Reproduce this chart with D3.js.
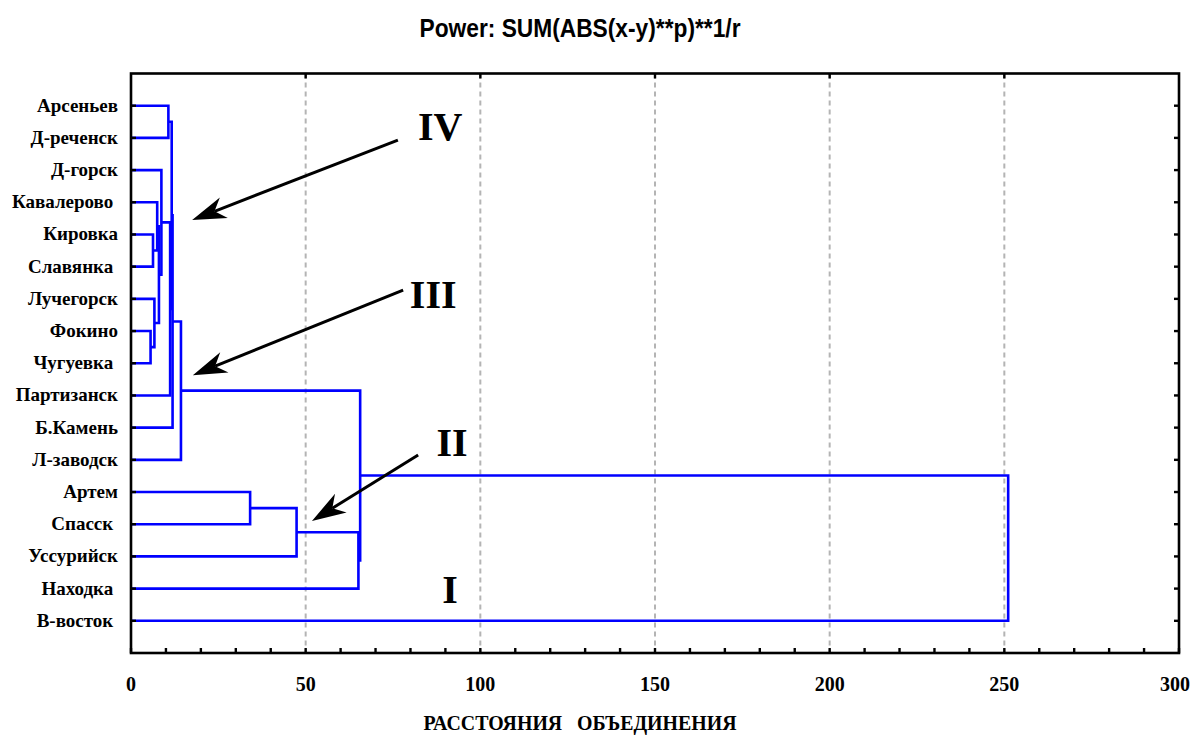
<!DOCTYPE html>
<html>
<head>
<meta charset="utf-8">
<script src="https://cdnjs.cloudflare.com/ajax/libs/d3/7.8.5/d3.min.js"></script>
<style>
	body { margin: 0; background: #fff; }
	svg text { white-space: pre; }
</style>
</head>
<body>
<div id="chart"></div>
<script>
	// leaves, top to bottom
	var towns = ["Арсеньев", "Д-реченск", "Д-горск", "Кавалерово ", "Кировка", "Славянка ", "Лучегорск", "Фокино", "Чугуевка ",
		"Партизанск", "Б.Камень", "Л-заводск", "Артем", "Спасск ", "Уссурийск", "Находка ", "В-восток "];

	// joins: [child A, child B, linkage distance]; node ids >= towns.length refer to earlier joins
	var joinA = [7, 4, 6, 3, 19, 2, 0, 22, 23, 25, 26, 12, 28, 29, 27, 31];
	var joinB = [8, 5, 17, 18, 20, 21, 1, 9, 24, 10, 11, 13, 14, 15, 30, 16];
	var joinDist = [5.6, 6.3, 6.7, 7.5, 8.0, 8.7, 10.7, 11.2, 11.65, 11.9, 14.3, 34.1, 47.4, 65.1, 65.6, 251.1];

	var xTicks = [0, 50, 100, 150, 200, 250, 300];
	var gridTicks = [50, 100, 150, 200, 250];

	var title = "Power: SUM(ABS(x-y)**p)**1/r";
	var xTitle = "РАССТОЯНИЯ   ОБЪЕДИНЕНИЯ";

	// roman labels and arrows, in chart units [distance, row]
	var romanText = ["IV", "III", "II", "I"];
	var romanAt = [[88.5, 2.07], [86.5, 7.28], [91.9, 11.88], [91.3, 16.45]];
	var arrowFrom = [[76.4, 2.07], [77.9, 6.73], [82.2, 11.85]];
	var arrowTo = [[17.5, 4.55], [17.7, 9.37], [51.8, 13.9]];

	var W = 1192, H = 735;
	var pLeft = 131, pRight = 1179, pTop = 73.5, pBottom = 653;

	var svg = d3.select("#chart").append("svg")
		.attr("width", W).attr("height", H);

	var x = d3.scaleLinear().domain([0, 300]).range([pLeft, pRight]);
	var y = d3.scaleLinear().domain([0, towns.length + 1]).range([pTop, pBottom]);

	// grid
	svg.append("g").selectAll("line").data(gridTicks).enter().append("line")
		.attr("x1", function(d) {return x(d);}).attr("x2", function(d) {return x(d);})
		.attr("y1", pTop).attr("y2", pBottom)
		.style("stroke", "#b4b4b4").style("stroke-width", 2).style("stroke-dasharray", "5,4");

	// node positions
	var nodeY = [], nodeH = [];
	for (var i = 0; i < towns.length; i++) {
		nodeY.push(y(i + 1));
		nodeH.push(0);
	};
	var links = [];
	for (var j = 0; j < joinA.length; j++) {
		var a = joinA[j], b = joinB[j], h = joinDist[j];
		links.push({ya: nodeY[a], ha: nodeH[a], yb: nodeY[b], hb: nodeH[b], h: h});
		nodeY.push((nodeY[a] + nodeY[b]) / 2);
		nodeH.push(h);
	};

	svg.append("g").selectAll("path").data(links).enter().append("path")
		.attr("d", function(d) {
			return "M" + x(d.ha) + "," + d.ya + "H" + x(d.h) + "V" + d.yb + "H" + x(d.hb);
		})
		.style("fill", "none").style("stroke", "#0000ff").style("stroke-width", 2.6);

	// frame
	svg.append("rect")
		.attr("x", pLeft).attr("y", pTop).attr("width", pRight - pLeft).attr("height", pBottom - pTop)
		.style("fill", "none").style("stroke", "#000").style("stroke-width", 2.6);

	var ticks = svg.append("g").style("stroke", "#000").style("stroke-width", 2.4);
	var minor = d3.range(0, 301, 10);
	ticks.selectAll(".b").data(minor).enter().append("line")
		.attr("x1", function(d) {return x(d);}).attr("x2", function(d) {return x(d);})
		.attr("y1", pBottom).attr("y2", pBottom - 5);
	ticks.selectAll(".t").data(gridTicks).enter().append("line")
		.attr("x1", function(d) {return x(d);}).attr("x2", function(d) {return x(d);})
		.attr("y1", pTop).attr("y2", pTop + 5);
	ticks.selectAll(".l").data(towns).enter().append("line")
		.attr("x1", pLeft).attr("x2", pLeft + 5)
		.attr("y1", function(d, i) {return y(i + 1);}).attr("y2", function(d, i) {return y(i + 1);});
	ticks.selectAll(".r").data(towns).enter().append("line")
		.attr("x1", pRight).attr("x2", pRight - 5)
		.attr("y1", function(d, i) {return y(i + 1);}).attr("y2", function(d, i) {return y(i + 1);});

	var serif = "'Liberation Serif', 'Times New Roman', serif";

	// row labels
	svg.append("g").selectAll("text").data(towns).enter().append("text")
		.attr("x", 118).attr("y", function(d, i) {return y(i + 1) + 6;})
		.attr("text-anchor", "end")
		.style("font-family", serif).style("font-weight", "bold").style("font-size", "19px")
		.text(function(d) {return d;});

	// x tick labels (last one kept inside the page)
	svg.append("g").selectAll("text").data(xTicks).enter().append("text")
		.attr("x", function(d) {return Math.min(x(d), W - 17);}).attr("y", 691)
		.attr("text-anchor", "middle")
		.style("font-family", serif).style("font-weight", "bold").style("font-size", "20px")
		.text(function(d) {return d;});

	svg.append("text")
		.attr("x", 580).attr("y", 730)
		.attr("text-anchor", "middle")
		.attr("textLength", 313).attr("lengthAdjust", "spacingAndGlyphs")
		.style("font-family", serif).style("font-weight", "bold").style("font-size", "21px")
		.text(xTitle);

	svg.append("text")
		.attr("x", 580).attr("y", 37)
		.attr("text-anchor", "middle")
		.attr("textLength", 321).attr("lengthAdjust", "spacingAndGlyphs")
		.style("font-family", "'Liberation Sans Narrow', 'Liberation Sans', Arial, sans-serif")
		.style("font-weight", "bold").style("font-size", "25px")
		.text(title);

	// annotations
	svg.append("g").selectAll("text").data(romanText).enter().append("text")
		.attr("x", function(d, i) {return x(romanAt[i][0]);})
		.attr("y", function(d, i) {return y(romanAt[i][1]);})
		.attr("text-anchor", "middle")
		.style("font-family", serif).style("font-weight", "bold").style("font-size", "40px")
		.text(function(d) {return d;});

	var arrows = svg.append("g");
	for (var k = 0; k < arrowFrom.length; k++) {
		var x0 = x(arrowFrom[k][0]), y0 = y(arrowFrom[k][1]);
		var x1 = x(arrowTo[k][0]), y1 = y(arrowTo[k][1]);
		var len = Math.sqrt((x1 - x0) * (x1 - x0) + (y1 - y0) * (y1 - y0));
		var ux = (x1 - x0) / len, uy = (y1 - y0) / len;
		var headL = 34, headW = 11, notch = 24;
		var bx = x1 - ux * headL, by = y1 - uy * headL;
		var nx = x1 - ux * notch, ny = y1 - uy * notch;
		arrows.append("line")
			.attr("x1", x0).attr("y1", y0).attr("x2", nx).attr("y2", ny)
			.style("stroke", "#000").style("stroke-width", 3);
		arrows.append("path")
			.attr("d", "M" + x1 + "," + y1 +
				"L" + (bx - uy * headW) + "," + (by + ux * headW) +
				"L" + nx + "," + ny +
				"L" + (bx + uy * headW) + "," + (by - ux * headW) + "Z")
			.style("fill", "#000");
	};
</script>
</body>
</html>
